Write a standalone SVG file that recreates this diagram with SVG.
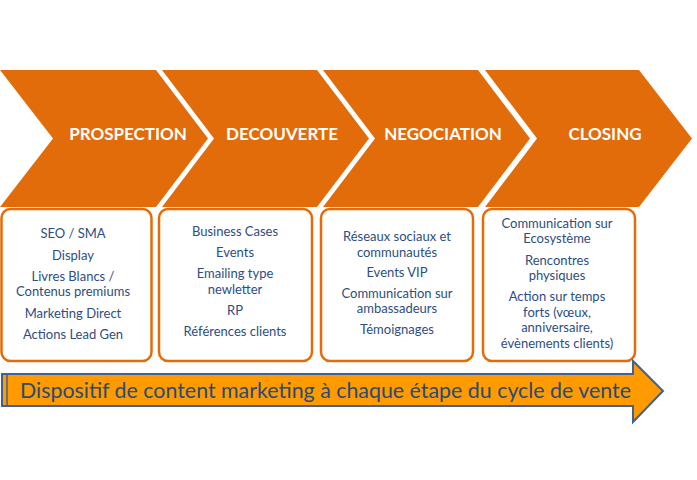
<svg xmlns="http://www.w3.org/2000/svg" width="697" height="480" viewBox="0 0 697 480">
<style>
.chev{fill:#E36C0A;}
.stage{font-family:Lato,"Liberation Sans",sans-serif;font-weight:bold;font-size:17px;fill:#FFFFFF;text-anchor:middle;}
.box{fill:#FFFFFF;stroke:#E36C0A;stroke-width:2.5;}
.item{font-family:Lato,"Liberation Sans",sans-serif;font-size:13px;fill:#2E4D80;text-anchor:middle;}
.flow{fill:#FF9A00;stroke:#3F6193;stroke-width:2;stroke-linejoin:miter;}
.flowtxt{font-family:Lato,"Liberation Sans",sans-serif;font-size:21px;fill:#2A4A78;}
</style>
<rect width="697" height="480" fill="#FFFFFF"/>
<g id="box-prospection">
<rect class="box" x="1.5" y="209" width="150" height="152" rx="9"/>
<text class="item" x="73" y="238">SEO / SMA</text>
<text class="item" x="73" y="260">Display</text>
<text class="item" x="73" y="281">Livres Blancs /</text>
<text class="item" x="73" y="296">Contenus premiums</text>
<text class="item" x="73" y="318">Marketing Direct</text>
<text class="item" x="73" y="339">Actions Lead Gen</text>
</g>
<g id="box-decouverte">
<rect class="box" x="159" y="209" width="153" height="152" rx="9"/>
<text class="item" x="235" y="236">Business Cases</text>
<text class="item" x="235" y="257">Events</text>
<text class="item" x="235" y="278">Emailing type</text>
<text class="item" x="235" y="294">newletter</text>
<text class="item" x="235" y="315">RP</text>
<text class="item" x="235" y="336">Références clients</text>
</g>
<g id="box-negociation">
<rect class="box" x="321" y="209" width="152" height="152" rx="9"/>
<text class="item" x="397" y="241">Réseaux sociaux et</text>
<text class="item" x="397" y="257">communautés</text>
<text class="item" x="397" y="277">Events VIP</text>
<text class="item" x="397" y="298">Communication sur</text>
<text class="item" x="397" y="313">ambassadeurs</text>
<text class="item" x="397" y="334">Témoignages</text>
</g>
<g id="box-closing">
<rect class="box" x="483" y="209" width="152" height="152" rx="9"/>
<text class="item" x="557" y="228">Communication sur</text>
<text class="item" x="557" y="243">Ecosystème</text>
<text class="item" x="557" y="265">Rencontres</text>
<text class="item" x="557" y="280">physiques</text>
<text class="item" x="557" y="301">Action sur temps</text>
<text class="item" x="557" y="317">forts (vœux,</text>
<text class="item" x="557" y="332">anniversaire,</text>
<text class="item" x="557" y="348">évènements clients)</text>
</g>
<g id="stage-prospection">
<polygon class="chev" points="0,70 156,70 208,138.5 156,207 0,207 53,138.5"/>
<text class="stage" x="128" y="140">PROSPECTION</text>
</g>
<g id="stage-decouverte">
<polygon class="chev" points="162,70 317,70 369,138.5 317,207 162,207 214,138.5"/>
<text class="stage" x="282" y="140">DECOUVERTE</text>
</g>
<g id="stage-negociation">
<polygon class="chev" points="323,70 478,70 530,138.5 478,207 323,207 375,138.5"/>
<text class="stage" x="443" y="140">NEGOCIATION</text>
</g>
<g id="stage-closing">
<polygon class="chev" points="485,70 639,70 692,138.5 639,207 485,207 537,138.5"/>
<text class="stage" x="605" y="140">CLOSING</text>
</g>
<g id="connectors">
<g id="flow-arrow">
<path class="flow" d="M2,374 L633,374 L633,361 L663,391 L633,422 L633,406 L2,406 Z"/>
<line x1="7" y1="375" x2="7" y2="405" stroke="#3F6193" stroke-width="1.5"/>
<text class="flowtxt" x="20" y="398" textLength="611" lengthAdjust="spacingAndGlyphs">Dispositif de content marketing à chaque étape du cycle de vente</text>
</g>
</g>
</svg>
